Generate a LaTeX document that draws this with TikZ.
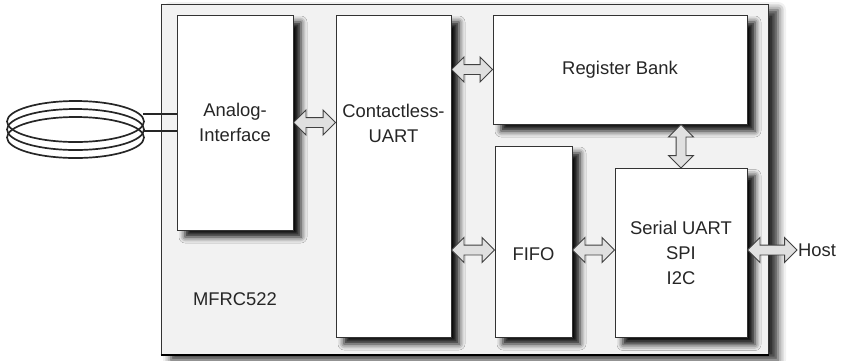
\documentclass[tikz,border=0pt]{standalone}
\usepackage{fontspec}
\setmainfont{Liberation Sans}
\usetikzlibrary{calc,shapes.arrows,shadows.blur}

\begin{document}
\begin{tikzpicture}[x=1pt,y=-1pt,
  blk/.style={draw=black!80,line width=1pt,fill=white,inner sep=0pt,
    blur shadow={shadow xshift=8pt,shadow yshift=-7pt,shadow blur radius=6pt,shadow opacity=95}},
  txt/.style={font=\fontsize{18.4}{25}\selectfont,text=black!85,align=center},
  dblarrow/.style={double arrow,draw=black!75,fill=black!12,line width=0.9pt,
    inner xsep=0pt,inner ysep=4.5pt,double arrow head extend=7.5pt}]
  \useasboundingbox (0,0) rectangle (845,360);
  % chip
  \node[draw=black!80,line width=1pt,fill=black!5,minimum width=607,minimum height=350,
    blur shadow={shadow xshift=10pt,shadow yshift=-6pt,shadow blur radius=8pt,shadow opacity=85}]
    (chip) at (464.5,179) {};
  \draw[line width=2pt] (chip.south west) -- (chip.south east);
  \node[blk,minimum width=116,minimum height=215,txt] (ana) at (235,122.5) {Analog-\\Interface};
  \node[blk,minimum width=115,minimum height=322] (cuart) at (393.5,176) {};
  \node[txt] (cuarttxt) at (393.5,123) {Contactless-\\UART};
  \node[blk,minimum width=254,minimum height=109,txt] (reg) at (620,69.5) {Register Bank};
  \node[blk,minimum width=77,minimum height=191] (fifo) at (533.5,241.5) {};
  \node[txt] (fifotxt) at (533.5,254) {FIFO};
  \node[blk,minimum width=132,minimum height=169,txt] (ser) at (681,253) {Serial UART\\SPI\\I2C};
  \node[txt] (chiptxt) at (235,299) {MFRC522};
  \node[txt,anchor=west,inner sep=1pt] (host) at (797,250) {Host};
  % antenna
  \foreach \dy in {0,8,16}
    \draw[line width=1.7pt,black!85] (75.5,121.5+\dy) ellipse [x radius=68.5,y radius=20.5];
  \coordinate (lead1) at (143,114);
  \coordinate (lead2) at (143,131);
  \draw[line width=1.8pt,black!85] (lead1) -- (lead1 -| ana.west);
  \draw[line width=1.3pt,black!85] (lead2) -- (lead2 -| ana.west);
  % data paths
  \path let \p1=(ana.east), \p2=(cuart.west |- ana.east) in
    node[dblarrow,minimum height=\x2-\x1] (a1) at ($(\p1)!.5!(\p2)$) {};
  \path let \p1=(cuart.east |- reg.west), \p2=(reg.west) in
    node[dblarrow,minimum height=\x2-\x1] (a2) at ($(\p1)!.5!(\p2)$) {};
  \path let \p1=(cuart.east |- host.west), \p2=(fifo.west |- host.west) in
    node[dblarrow,minimum height=\x2-\x1] (a3) at ($(\p1)!.5!(\p2)$) {};
  \path let \p1=(fifo.east |- host.west), \p2=(ser.west |- host.west) in
    node[dblarrow,minimum height=\x2-\x1] (a4) at ($(\p1)!.5!(\p2)$) {};
  \path let \p1=(ser.east |- host.west), \p2=(host.west) in
    node[dblarrow,minimum height=\x2-\x1] (a5) at ($(\p1)!.5!(\p2)$) {};
  \path let \p1=(reg.south -| ser.north), \p2=(ser.north) in
    node[dblarrow,shape border rotate=90,inner xsep=4.5pt,inner ysep=0pt,
      minimum height=\y1-\y2] (a6) at ($(\p1)!.5!(\p2)$) {};
\end{tikzpicture}
\end{document}
